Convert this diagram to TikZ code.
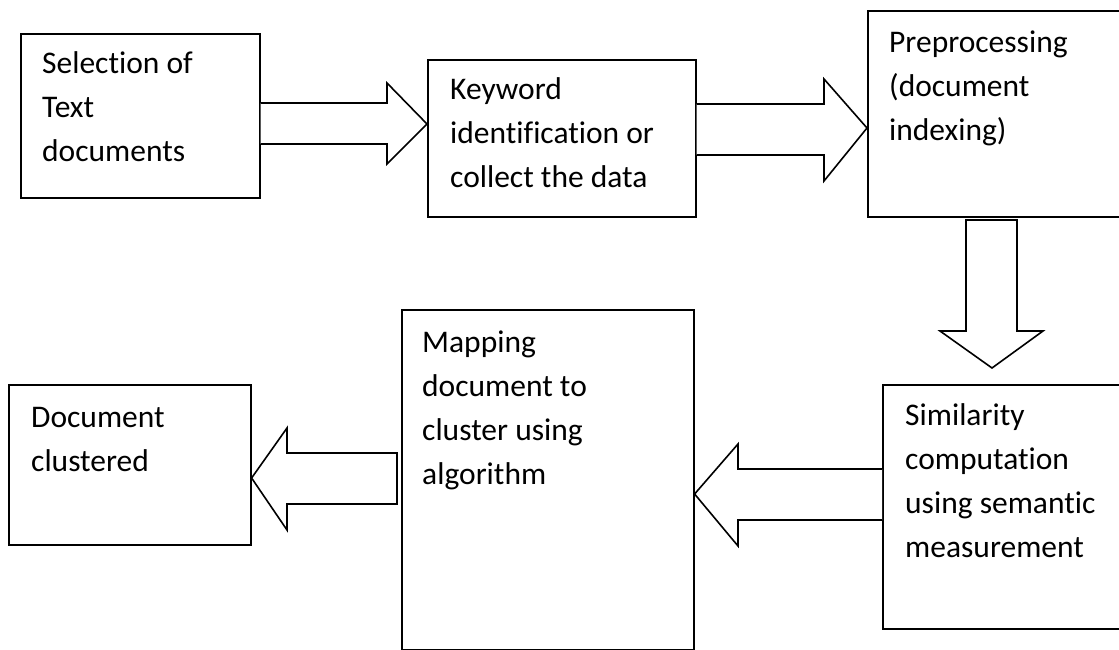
\documentclass[tikz,border=0pt]{standalone}
\usepackage{fontspec}
\setmainfont[RawFeature={-liga;-clig;-dlig}]{Carlito}
\usetikzlibrary{calc}

\tikzset{
  box/.style={draw=black, line width=1.6pt, rectangle, inner sep=0pt, anchor=north west},
  txt/.style={anchor=base west, inner sep=0pt, font={\fontsize{31.5}{44}\selectfont}},
  blockarrow/.style={draw=black, line width=1.6pt, fill=white, line join=miter},
}
% stacked lines, baseline of the node = baseline of the first line
\newcommand{\stack}[1]{\vtop{\baselineskip=44pt #1}}

\begin{document}
\begin{tikzpicture}[x=1pt, y=-1pt]
\useasboundingbox (0,0) rectangle (1119,650);
\clip (0,0) rectangle (1119,650);
\fill[white] (0,0) rectangle (1119,650);

% process boxes
\node[box, minimum width=239pt, minimum height=164pt] (b1) at (20,33) {};
\node[box, minimum width=268pt, minimum height=157pt] (b2) at (427,59) {};
\node[box, minimum width=262pt, minimum height=206pt] (b3) at (867,10) {};
\node[box, minimum width=247pt, minimum height=244pt] (b4) at (882,384) {};
\node[box, minimum width=292pt, minimum height=340pt] (b5) at (401,309) {};
\node[box, minimum width=242pt, minimum height=160pt] (b6) at (8,384) {};

% box texts
\node[txt] (t1) at ($(b1.north west)+(22,41)$) {\stack{\hbox{Selection of}\hbox{Text}\hbox{documents}}};
\node[txt] (t2) at ($(b2.north west)+(23,41)$) {\stack{\hbox{Keyword}\hbox{identification or}\hbox{collect the data}}};
\node[txt] (t3) at ($(b3.north west)+(22,43)$) {\stack{\hbox{Preprocessing}\hbox{(document}\hbox{indexing)}}};
\node[txt] (t4) at ($(b4.north west)+(23,41)$) {\stack{\hbox{Similarity}\hbox{computation}\hbox{using semantic}\hbox{measurement}}};
\node[txt] (t5) at ($(b5.north west)+(21,43)$) {\stack{\hbox{Mapping}\hbox{document to}\hbox{cluster using}\hbox{algorithm}}};
\node[txt] (t6) at ($(b6.north west)+(23,43)$) {\stack{\hbox{Document}\hbox{clustered}}};

% block arrows between the boxes
\draw[blockarrow] (b1.east |- 0,103) -- (387,103) -- (387,83) -- (b2.west |- 0,124)
  -- (387,164) -- (387,144) -- (b1.east |- 0,144);
\draw[blockarrow] (b2.east |- 0,104) -- (824,104) -- (824,79) -- (b3.west |- 0,128)
  -- (824,181) -- (824,155) -- (b2.east |- 0,155);
\draw[blockarrow] (966,220) -- (966,331) -- (940,331) -- (992,368)
  -- (1043,331) -- (1017,331) -- (1017,220) -- cycle;
\draw[blockarrow] (b4.west |- 0,469) -- (738,469) -- (738,444) -- (b5.east |- 0,494)
  -- (738,546) -- (738,520) -- (b4.west |- 0,520);
\draw[blockarrow] (397,453) -- (287,453) -- (287,428) -- (b6.east |- 0,478)
  -- (287,530) -- (287,504) -- (397,504) -- cycle;
\end{tikzpicture}
\end{document}
